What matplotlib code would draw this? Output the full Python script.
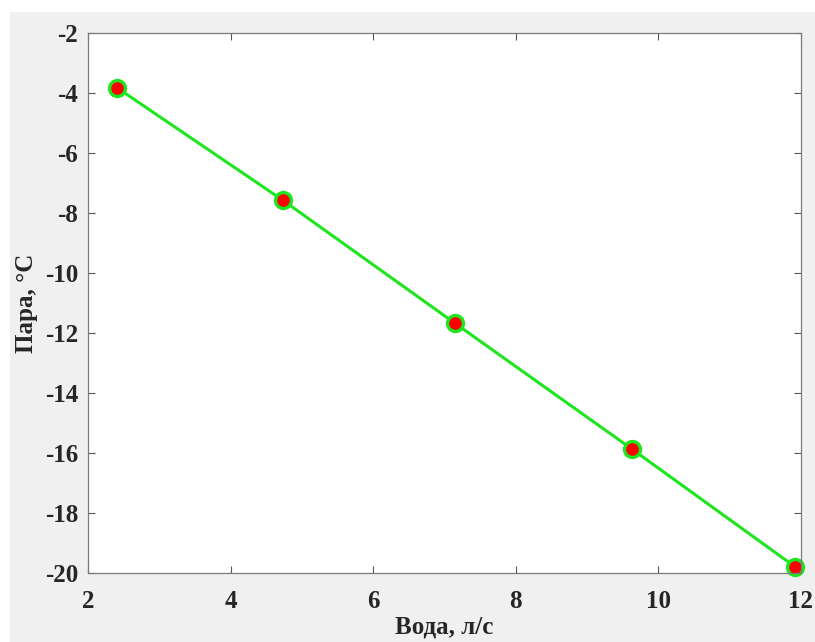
import matplotlib.pyplot as plt
from matplotlib.patches import Rectangle

# flow of water vs steam temperature
water = [2.41, 4.73, 7.15, 9.63, 11.92]
steam = [-3.83, -7.57, -11.68, -15.87, -19.80]
xticks = [2, 4, 6, 8, 10, 12]
yticks = [-2, -4, -6, -8, -10, -12, -14, -16, -18, -20]

plt.rcParams['font.family'] = ['Liberation Serif', 'DejaVu Serif']
plt.rcParams['axes.unicode_minus'] = False

fig = plt.figure(figsize=(8.15, 6.42), dpi=100, facecolor='#f0f0f0')
# white border at top and left, as in the screenshot
fig.patches.append(Rectangle((0, 1 - 12 / 642), 1, 12 / 642, transform=fig.transFigure,
                             facecolor='white', edgecolor='none', zorder=0))
fig.patches.append(Rectangle((0, 0), 10 / 815, 1, transform=fig.transFigure,
                             facecolor='white', edgecolor='none', zorder=0))

ax = fig.add_axes([88 / 815, 1 - 573 / 642, (801 - 88) / 815, (573 - 33) / 642])
ax.plot(water, steam, color='#1ee61e', linewidth=2.2, marker='o',
        markersize=11.5, markerfacecolor='red', markeredgecolor='#1ee61e',
        markeredgewidth=2.4, clip_on=False)

ax.set_xlim(2, 12)
ax.set_ylim(-20, -2)
ax.set_xticks(xticks)
ax.set_yticks(yticks)
ax.tick_params(direction='in', length=5, width=0.8, color='#555555',
               labelsize=18, labelcolor='#262626', top=True, right=True)
ax.tick_params(axis='x', pad=12)
ax.tick_params(axis='y', pad=7)
for lab in ax.get_xticklabels() + ax.get_yticklabels():
    lab.set_fontweight('bold')
for s in ax.spines.values():
    s.set_color('#7a7a7a')
    s.set_linewidth(0.9)

ax.set_xlabel('Вода, л/с', fontsize=18, fontweight='bold', color='#262626', labelpad=2)
ax.set_ylabel('Пара, °C', fontsize=18, fontweight='bold', color='#262626', labelpad=5)

plt.savefig('out.png', dpi=100, facecolor=fig.get_facecolor())
